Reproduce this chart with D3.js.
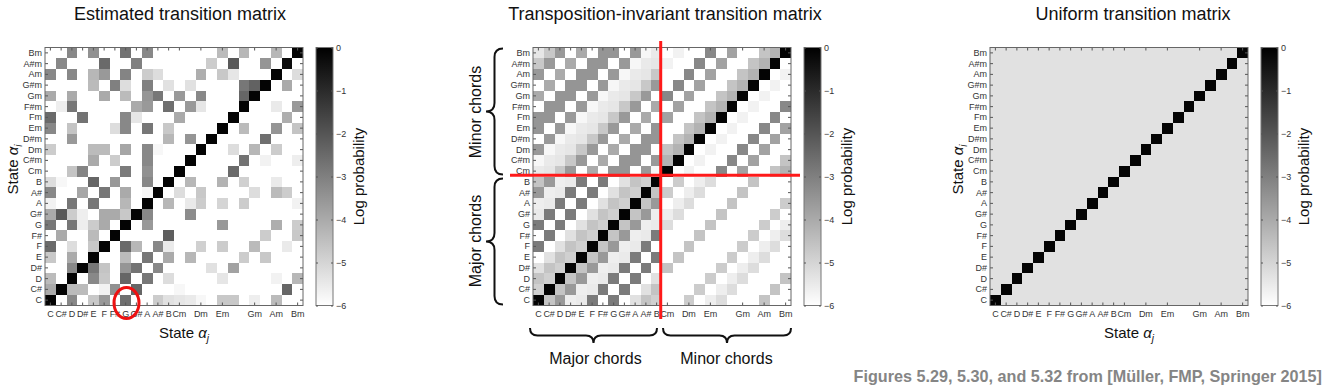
<!DOCTYPE html>
<html>
<head>
<meta charset="utf-8">
<script src="https://cdn.jsdelivr.net/npm/d3@7"></script>
<style>
  body { margin: 0; background: #fff; }
  svg { display: block; font-family: "Liberation Sans", Arial, sans-serif; }
</style>
</head>
<body>
<svg width="1333" height="390"></svg>
<script>
// chord states, rows/cols of every matrix (C ... B, Cm ... Bm)
const states = ["C","C#","D","D#","E","F","F#","G","G#","A","A#","B",
                "Cm","C#m","Dm","D#m","Em","Fm","F#m","Gm","G#m","Am","A#m","Bm"];
// only these columns carry a label on the x axis
const xTickStates = ["C","C#","D","D#","E","F","F#","G","G#","A","A#","B","Cm","Dm","Em","Gm","Am","Bm"];
const cbTicks = [0, -1, -2, -3, -4, -5, -6];

// Fig 5.29: estimated log probabilities, one row per state (C first, Bm last)
const estimated = [
  [-0.1,-6,-3.2,-6,-4.7,-3.6,-6,-2.6,-6,-6,-4.8,-5.3,-5.4,-5.5,-5.8,-6,-4.7,-4.7,-6,-5.6,-6,-4.4,-6,-6],
  [-4.0,-0.1,-4.4,-4.4,-6,-5.7,-3.4,-6,-2.4,-6,-6,-6,-5.8,-6,-6,-6,-6,-6,-6,-6,-6,-6,-2.4,-6],
  [-4.4,-6,-0.1,-6,-3.2,-4.7,-6,-2.4,-6,-2.8,-6,-5.2,-6,-6,-6,-6,-5.4,-6,-6,-6,-6,-5.7,-6,-4.3],
  [-6,-6,-3.2,-0.1,-2.8,-4.6,-6,-3.5,-2.7,-6,-3.2,-6,-6,-6,-6,-5.3,-6,-3.8,-6,-6,-6,-6,-6,-6],
  [-4.7,-6,-4.0,-6,-0.1,-6,-6,-4.4,-6,-2.8,-6,-4.0,-6,-4.3,-6,-6,-6,-6,-4.8,-6,-4.7,-6,-6,-6],
  [-2.5,-6,-5.2,-6,-4.7,-0.1,-6,-2.5,-4.3,-6,-3.2,-5.5,-6,-6,-4.9,-6,-4.8,-6,-6,-4.4,-6,-6,-5.5,-6],
  [-6,-4.0,-6,-6,-4.4,-6,-0.1,-6,-6,-6,-6,-2.2,-6,-6,-6,-6,-6,-6,-6,-6,-4.8,-6,-6,-4.7],
  [-2.8,-6,-2.8,-5.6,-4.8,-4.0,-6,-0.1,-6,-3.6,-6,-6,-6,-6,-6,-6,-3.6,-6,-6,-6,-6,-4.1,-6,-4.8],
  [-4.0,-2.1,-4.8,-5.6,-6,-4.0,-4.0,-4.7,-0.1,-3.2,-6,-6,-6,-3.3,-6,-6,-6,-6,-6,-6,-6,-6,-6,-6],
  [-5.7,-6,-2.8,-6,-2.8,-6,-6,-4.3,-6,-0.1,-6,-4.3,-6,-5.5,-4.8,-6,-5.0,-6,-4.8,-6,-6,-6,-6,-5.7],
  [-3.2,-6,-6,-3.9,-6,-2.8,-6,-4.0,-6,-5.8,-0.1,-6,-5.2,-6,-4.7,-6,-6,-6,-6,-5.2,-6,-4.4,-4.8,-6],
  [-5.2,-5.8,-6,-6,-2.4,-6,-3.6,-6,-6,-3.2,-6,-0.1,-6,-4.3,-6,-6,-4.2,-6,-4.9,-6,-6,-5.5,-6,-6],
  [-6,-6,-4.6,-3.1,-6,-6,-6,-2.9,-6,-3.4,-6,-6,-0.1,-6,-6,-6,-6,-2.5,-6,-6,-6,-6,-6,-6],
  [-6,-6,-6,-6,-4.0,-6,-4.8,-6,-6,-3.2,-6,-6,-6,-0.1,-6,-6,-6,-6,-2.7,-6,-5.7,-6,-6,-5.6],
  [-4.8,-6,-6,-6,-4.4,-4.4,-6,-3.9,-6,-3.2,-5.8,-6,-6,-6,-0.1,-6,-6,-5.2,-6,-4.3,-6,-4.8,-6,-6],
  [-6,-6,-3.6,-6,-6,-6,-6,-6,-6,-6,-6,-4.3,-6,-3.5,-6,-0.1,-6,-6,-6,-6,-2.6,-6,-6,-6],
  [-3.2,-6,-4.6,-6,-6,-6,-5.2,-3.2,-6,-2.8,-6,-4.7,-6,-6,-6,-6,-0.1,-6,-4.4,-6,-6,-3.5,-6,-4.6],
  [-2.5,-6,-6,-2.7,-6,-6,-6,-3.2,-5.4,-6,-6,-6,-4.0,-6,-6,-6,-6,-0.1,-6,-6,-6,-6,-4.1,-6],
  [-6,-5.6,-2.8,-6,-6,-6,-6,-6,-4.0,-3.6,-6,-2.6,-6,-3.6,-5.4,-6,-6,-6,-0.1,-6,-6,-5.5,-6,-3.6],
  [-4.0,-6,-4.0,-6,-6,-4.0,-6,-4.4,-6,-3.5,-2.8,-6,-3.6,-6,-3.2,-6,-6,-6,-2.4,-0.1,-6,-6,-6,-6],
  [-6,-6,-6,-6,-4.4,-6,-3.0,-5.2,-6,-3.0,-6,-5.3,-6,-5.3,-6,-6,-6,-6,-2.8,-2.3,-0.1,-6,-4.0,-6],
  [-3.2,-6,-3.2,-6,-4.3,-3.6,-6,-3.1,-6,-4.8,-5.2,-6,-6,-6,-4.1,-6,-4.7,-5.4,-6,-6,-6,-0.1,-6,-5.2],
  [-6,-3.2,-6,-6,-6,-2.5,-6,-6,-3.0,-6,-6,-6,-6,-6,-6,-4.8,-6,-2.1,-6,-6,-3.5,-6,-0.3,-6],
  [-6,-6,-3.2,-6,-3.4,-6,-6,-2.7,-6,-3.2,-6,-6,-6,-6,-6,-6,-4.4,-6,-4.3,-6,-6,-4.3,-6,-0.1]
];

// Fig 5.30: log probability by interval (semitones up from the source chord)
const majToMaj = [-0.1,-4.6,-3.6,-5.6,-5.5,-2.9,-6,-2.9,-6,-5.3,-4.6,-4.9];
const majToMin = [-6,-6,-4.8,-6,-5.6,-5.2,-6,-6,-6,-4.6,-6,-6];
const minToMaj = [-5.5,-5.4,-4.7,-3.6,-6,-4.0,-6,-3.5,-3.5,-6,-3.6,-5.8];
const minToMin = [-0.1,-6,-5.7,-6,-6,-3.2,-6,-3.8,-6,-6,-4.6,-4.2];

// Fig 5.32: uniform matrix
const uniformDiag = -0.1;
const uniformOff = -5.3;

const invariant = states.map((_, i) => states.map((_, j) => {
  const d = ((j % 12) - (i % 12) + 12) % 12;
  if (i < 12) return j < 12 ? majToMaj[d] : majToMin[d];
  return j < 12 ? minToMaj[d] : minToMin[d];
}));
const uniform = states.map((_, i) => states.map((_, j) => i === j ? uniformDiag : uniformOff));

const svg = d3.select("svg");
const size = 258;
const mTop = 47.5;
const color = d3.scaleLinear().domain([-6, 0]).range(["#ffffff", "#000000"]).clamp(true);

const grad = svg.append("defs").append("linearGradient")
  .attr("id", "cbGrad").attr("x1", 0).attr("y1", 0).attr("x2", 0).attr("y2", 1);
grad.append("stop").attr("offset", "0%").attr("stop-color", "#000");
grad.append("stop").attr("offset", "100%").attr("stop-color", "#fff");

function alphaLabel(sel, sub) {
  sel.append("tspan").text("State ");
  sel.append("tspan").attr("font-style", "italic").text("α");
  sel.append("tspan").attr("font-style", "italic").attr("font-size", 10).attr("dy", 4).text(sub);
}

function drawPanel(opt) {
  const g = svg.append("g");
  const left = opt.left;
  const x = d3.scaleBand().domain(states).range([left, left + size]);
  const y = d3.scaleBand().domain(states).range([mTop + size, mTop]);

  const cells = [];
  opt.data.forEach((row, i) => row.forEach((v, j) => cells.push({ i, j, v })));

  g.append("g").attr("shape-rendering", "crispEdges")
    .selectAll("rect").data(cells).join("rect")
    .attr("x", d => x(states[d.j]))
    .attr("y", d => y(states[d.i]))
    .attr("width", x.bandwidth())
    .attr("height", y.bandwidth())
    .attr("fill", d => color(d.v));

  const tickStyle = ax => {
    ax.select(".domain").remove();
    ax.selectAll("line").attr("stroke", "#555");
    ax.selectAll("text").attr("font-size", 9).attr("fill", "#333").attr("font-family", "Liberation Sans, Arial, sans-serif");
  };

  g.append("g").attr("transform", `translate(${left},0)`)
    .call(d3.axisLeft(y).tickSize(-3).tickPadding(3)).call(tickStyle);
  g.append("g").attr("transform", `translate(${left + size},0)`)
    .call(d3.axisRight(y).tickSize(-3).tickFormat("")).call(tickStyle);
  g.append("g").attr("transform", `translate(0,${mTop + size})`)
    .call(d3.axisBottom(x).tickValues(xTickStates).tickSize(-3).tickPadding(5)).call(tickStyle);
  g.append("g").attr("transform", `translate(0,${mTop})`)
    .call(d3.axisTop(x).tickValues(xTickStates).tickSize(-3).tickFormat("")).call(tickStyle);

  g.append("rect")
    .attr("x", left).attr("y", mTop).attr("width", size).attr("height", size)
    .attr("fill", "none").attr("stroke", "#666").attr("stroke-width", 1);

  // colorbar
  const cbx = left + size + 13, cbw = 17;
  const cy = d3.scaleLinear().domain([-6, 0]).range([mTop + size, mTop]);
  g.append("rect").attr("x", cbx).attr("y", mTop).attr("width", cbw).attr("height", size)
    .attr("fill", "url(#cbGrad)").attr("stroke", "#777").attr("stroke-width", 1);
  g.append("g").attr("transform", `translate(${cbx + cbw},0)`)
    .call(d3.axisRight(cy).tickValues(cbTicks).tickSize(-2).tickPadding(3).tickFormat(d3.format("d")))
    .call(tickStyle);
  g.append("g").attr("transform", `translate(${cbx},0)`)
    .call(d3.axisLeft(cy).tickValues(cbTicks).tickSize(-2).tickFormat(""))
    .call(tickStyle);
  g.append("text")
    .attr("transform", `translate(${cbx + cbw + 31},${mTop + size / 2}) rotate(-90)`)
    .attr("text-anchor", "middle").attr("font-size", 15).attr("fill", "#111")
    .text("Log probability");

  g.append("text")
    .attr("x", opt.titleX).attr("y", 20)
    .attr("text-anchor", "middle").attr("font-size", 18).attr("fill", "#111")
    .text(opt.title);

  if (opt.stateLabels) {
    g.append("text")
      .attr("x", left + size / 2 + 10).attr("y", 338)
      .attr("text-anchor", "middle").attr("font-size", 15).attr("fill", "#111")
      .call(alphaLabel, "j");
    g.append("text")
      .attr("transform", `translate(${left - 27},${mTop + size / 2 - 7}) rotate(-90)`)
      .attr("text-anchor", "middle").attr("font-size", 15).attr("fill", "#111")
      .call(alphaLabel, "i");
  }
  return { g, x, y, left };
}

drawPanel({ left: 45, data: estimated, title: "Estimated transition matrix", titleX: 180, stateLabels: true });
const p2 = drawPanel({ left: 533, data: invariant, title: "Transposition-invariant transition matrix", titleX: 665, stateLabels: false });
drawPanel({ left: 990, data: uniform, title: "Uniform transition matrix", titleX: 1133, stateLabels: true });

// red circle around the G column label in the first panel
svg.append("ellipse")
  .attr("cx", 126.5).attr("cy", 303).attr("rx", 12.5).attr("ry", 15.5)
  .attr("fill", "none").attr("stroke", "#ee1111").attr("stroke-width", 3);

// braces and red separators for the invariant matrix
function braceV(xe, y1, y2, w) {
  const xm = xe - w / 2, xt = xe - w, ym = (y1 + y2) / 2, r = w / 2;
  return `M${xe},${y1} Q${xm},${y1} ${xm},${y1 + r} L${xm},${ym - r} Q${xm},${ym} ${xt},${ym}` +
         ` Q${xm},${ym} ${xm},${ym + r} L${xm},${y2 - r} Q${xm},${y2} ${xe},${y2}`;
}
function braceH(x1, x2, ye, h) {
  const ymid = ye + h / 2, yt = ye + h, xm = (x1 + x2) / 2, r = h / 2;
  return `M${x1},${ye} Q${x1},${ymid} ${x1 + r},${ymid} L${xm - r},${ymid} Q${xm},${ymid} ${xm},${yt}` +
         ` Q${xm},${ymid} ${xm + r},${ymid} L${x2 - r},${ymid} Q${x2},${ymid} ${x2},${ye}`;
}
const midX = p2.x("Cm"), midY = p2.y("B");
const bg = svg.append("g").attr("fill", "none").attr("stroke", "#111").attr("stroke-width", 2);
bg.append("path").attr("d", braceV(503, mTop + 1, midY - 2, 17));
bg.append("path").attr("d", braceV(503, midY + 2, mTop + size - 1, 17));
bg.append("path").attr("d", braceH(p2.left - 3, midX - 5, 328, 15));
bg.append("path").attr("d", braceH(midX + 1, p2.left + size, 328, 15));

const chordLab = [
  { t: "Minor chords", x: 480.5, y: (mTop + midY) / 2, rot: true },
  { t: "Major chords", x: 480.5, y: (midY + mTop + size) / 2, rot: true },
  { t: "Major chords", x: (p2.left + midX) / 2 - 2, y: 364, rot: false },
  { t: "Minor chords", x: (midX + p2.left + size) / 2, y: 364, rot: false }
];
svg.selectAll("text.chord").data(chordLab).join("text")
  .attr("class", "chord")
  .attr("transform", d => d.rot ? `translate(${d.x},${d.y}) rotate(-90)` : `translate(${d.x},${d.y})`)
  .attr("text-anchor", "middle").attr("font-size", 16).attr("fill", "#111")
  .text(d => d.t);

svg.append("line").attr("x1", midX - 1.3).attr("x2", midX - 1.3).attr("y1", 41).attr("y2", 319)
  .attr("stroke", "#ff1a1a").attr("stroke-width", 3);
svg.append("line").attr("x1", 510).attr("x2", 800).attr("y1", midY - 1.3).attr("y2", midY - 1.3)
  .attr("stroke", "#ff1a1a").attr("stroke-width", 3);

svg.append("text")
  .attr("x", 1322).attr("y", 382).attr("text-anchor", "end")
  .attr("font-size", 16.2).attr("font-weight", "bold").attr("fill", "#858585")
  .text("Figures 5.29, 5.30, and 5.32 from [Müller, FMP, Springer 2015]");
</script>
</body>
</html>
